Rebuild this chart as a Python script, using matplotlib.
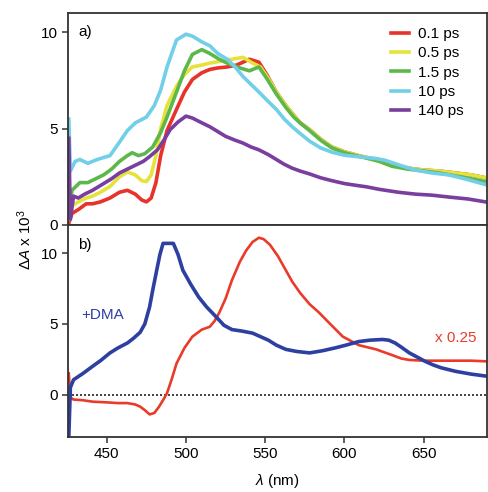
import matplotlib
matplotlib.use("Agg")
import matplotlib.pyplot as plt

plt.rcParams['font.family'] = ['Liberation Sans', 'DejaVu Sans']
plt.rcParams['mathtext.fontset'] = 'custom'
plt.rcParams['mathtext.rm'] = 'Liberation Sans'
plt.rcParams['mathtext.it'] = 'Liberation Sans:italic'

# ---- Panel a data (wavelength nm, dA x 10^3) ----
wl_01 = [426, 428, 432, 437, 441, 446, 452, 458, 463, 468, 472, 475, 478, 481, 484, 488, 494, 499, 504, 510, 515, 520, 526, 532, 540, 546, 551, 557, 563, 568, 572, 578, 585, 592, 600, 608, 614, 622, 630, 640, 650, 660, 670, 680, 689]
a_01 = [0.1, 0.6, 0.8, 1.1, 1.1, 1.2, 1.4, 1.7, 1.8, 1.6, 1.3, 1.2, 1.4, 2.2, 3.6, 4.9, 6.0, 6.9, 7.55, 7.9, 8.07, 8.15, 8.2, 8.3, 8.6, 8.45, 7.8, 6.9, 6.2, 5.7, 5.3, 4.95, 4.45, 4.05, 3.8, 3.62, 3.5, 3.35, 3.1, 2.95, 2.85, 2.8, 2.7, 2.6, 2.45]

wl_05 = [426, 428, 432, 437, 441, 446, 452, 458, 463, 468, 472, 475, 478, 481, 484, 488, 494, 499, 504, 510, 515, 522, 529, 536, 542, 547, 552, 557, 563, 568, 572, 578, 585, 592, 600, 608, 614, 622, 630, 640, 650, 660, 670, 680, 689]
a_05 = [0.3, 1.0, 1.2, 1.4, 1.5, 1.7, 2.0, 2.5, 2.75, 2.6, 2.3, 2.25, 2.6, 3.6, 5.0, 6.2, 7.2, 7.8, 8.2, 8.3, 8.4, 8.5, 8.6, 8.7, 8.4, 8.2, 7.6, 6.9, 6.2, 5.7, 5.3, 4.95, 4.45, 4.05, 3.8, 3.62, 3.5, 3.35, 3.1, 2.95, 2.85, 2.8, 2.7, 2.6, 2.45]

wl_15 = [426, 428, 433, 438, 443, 448, 453, 458, 463, 466, 470, 474, 479, 484, 488, 494, 499, 504, 510, 515, 521, 526, 532, 540, 546, 551, 557, 563, 568, 572, 578, 585, 592, 600, 608, 614, 622, 630, 640, 650, 660, 670, 680, 689]
a_15 = [0.5, 1.8, 2.2, 2.2, 2.4, 2.6, 2.9, 3.3, 3.6, 3.75, 3.6, 3.7, 4.05, 4.8, 5.6, 6.9, 8.0, 8.85, 9.1, 8.9, 8.6, 8.4, 8.2, 8.0, 8.2, 7.6, 6.8, 6.1, 5.6, 5.3, 4.9, 4.4, 4.0, 3.75, 3.58, 3.47, 3.3, 3.05, 2.9, 2.8, 2.7, 2.55, 2.4, 2.25]

wl_10 = [426, 427, 430, 433, 438, 444, 452, 458, 463, 468, 475, 480, 484, 488, 494, 500, 504, 510, 515, 520, 526, 531, 536, 541, 546, 552, 557, 562, 567, 572, 578, 585, 592, 600, 608, 614, 620, 626, 635, 645, 655, 666, 678, 689]
a_10 = [5.5, 2.8, 3.3, 3.4, 3.2, 3.4, 3.6, 4.3, 4.9, 5.3, 5.6, 6.2, 7.0, 8.2, 9.6, 9.9, 9.8, 9.5, 9.3, 8.9, 8.6, 8.2, 7.7, 7.3, 6.9, 6.4, 6.0, 5.5, 5.1, 4.75, 4.35, 4.0, 3.78, 3.62, 3.55, 3.5, 3.45, 3.35, 3.1, 2.85, 2.7, 2.6, 2.35, 2.1]

wl_140 = [426, 427, 429, 432, 436, 441, 447, 453, 458, 463, 468, 473, 477, 482, 486, 490, 495, 500, 504, 510, 515, 520, 525, 531, 536, 541, 546, 552, 557, 562, 567, 572, 578, 585, 592, 600, 608, 614, 622, 634, 645, 655, 666, 678, 689]
a_140 = [4.5, 0.3, 1.5, 1.4, 1.6, 1.8, 2.1, 2.4, 2.7, 2.9, 3.1, 3.3, 3.55, 3.9, 4.4, 4.95, 5.35, 5.65, 5.55, 5.3, 5.1, 4.85, 4.6, 4.4, 4.25, 4.05, 3.9, 3.65, 3.4, 3.15, 2.95, 2.8, 2.65, 2.45, 2.3, 2.15, 2.05, 1.98, 1.85, 1.7, 1.6, 1.55, 1.45, 1.35, 1.2]

# ---- Panel b data ----
wl_red_b = [426, 427, 429, 435, 441, 450, 457, 463, 468, 471, 474, 477, 480, 483, 486, 488, 491, 494, 499, 504, 510, 515, 518, 521, 525, 529, 534, 538, 542, 546, 549, 553, 558, 563, 567, 572, 578, 584, 591, 599, 609, 620, 630, 636, 641, 650, 660, 670, 680, 690]
b_red = [1.5, -0.2, -0.35, -0.4, -0.5, -0.55, -0.6, -0.6, -0.7, -0.85, -1.1, -1.4, -1.3, -0.85, -0.3, 0.1, 1.1, 2.2, 3.3, 4.1, 4.6, 4.8, 5.2, 5.8, 6.8, 8.1, 9.4, 10.2, 10.8, 11.1, 11.0, 10.6, 9.8, 8.8, 8.0, 7.2, 6.4, 5.8, 5.0, 4.1, 3.5, 3.2, 2.8, 2.55, 2.45, 2.4, 2.4, 2.4, 2.4, 2.35]

wl_blue_b = [426, 427, 429, 435, 441, 446, 452, 457, 463, 467, 471, 474, 477, 479, 481.5, 483.5, 485.5, 489, 492, 495, 498, 503, 508, 513, 519, 524, 529, 535, 542, 547, 552, 557, 563, 570, 578, 586, 594, 601, 609, 616, 624, 628, 632, 636, 641, 646, 651, 656, 661, 670, 680, 690]
b_blue = [-3.0, 0.5, 1.05, 1.5, 2.0, 2.4, 2.95, 3.3, 3.65, 4.0, 4.4, 5.0, 6.2, 7.4, 8.8, 9.9, 10.7, 10.7, 10.7, 9.9, 8.8, 7.8, 6.9, 6.2, 5.5, 4.9, 4.6, 4.5, 4.35, 4.1, 3.85, 3.5, 3.2, 3.05, 2.95, 3.1, 3.3, 3.5, 3.75, 3.85, 3.9, 3.85, 3.65, 3.35, 2.95, 2.65, 2.35, 2.1, 1.9, 1.65, 1.45, 1.3]

legend_labels = ['0.1 ps', '0.5 ps', '1.5 ps', '10 ps', '140 ps']
colors_a = ['#e8322a', '#e6e23c', '#5cb84a', '#72cfe8', '#7a3e9e']
red_b = '#ea3a2a'
blue_b = '#2e3fa2'

fig = plt.figure(figsize=(4.88, 4.92), dpi=100)
L, R = 68 / 488, 487 / 488
ax_a = fig.add_axes([L, 1 - 225 / 492, R - L, 212 / 492])
ax_b = fig.add_axes([L, 1 - 437 / 492, R - L, 212 / 492])

series_a = [(wl_01, a_01), (wl_05, a_05), (wl_15, a_15), (wl_10, a_10), (wl_140, a_140)]
for (x, y), c, lab in zip(series_a, colors_a, legend_labels):
    ax_a.plot(x, y, color=c, lw=2.6, label=lab, solid_joinstyle='round')

ax_b.axhline(0, color='#222222', lw=1.2, ls=(0, (1.2, 1.2)))
ax_b.plot(wl_red_b, b_red, color=red_b, lw=1.9)
ax_b.plot(wl_blue_b, b_blue, color=blue_b, lw=2.6)

for ax in (ax_a, ax_b):
    ax.set_xlim(425.5, 690)
    for s in ax.spines.values():
        s.set_color('#333333')
        s.set_linewidth(1.3)
    ax.tick_params(direction='out', length=4, width=1.1, color='#333333',
                   labelsize=11, right=False, top=False, pad=3)
    ax.set_yticks([0, 5, 10])
    ax.set_xticks([450, 500, 550, 600, 650])

ax_a.set_ylim(0, 11)
ax_a.tick_params(axis='x', bottom=False, labelbottom=False)
ax_b.set_ylim(-3, 12)

ax_a.text(432, 10, 'a)', fontsize=11, va='center', ha='left')
ax_b.text(432, 10.6, 'b)', fontsize=11, va='center', ha='left')
ax_b.text(434, 5.6, '+DMA', fontsize=11, color=blue_b, va='center', ha='left')
ax_b.text(657, 4.0, 'x 0.25', fontsize=11, color=red_b, va='center', ha='left')

ax_a.legend(loc='upper right', frameon=False, fontsize=11, handlelength=1.2,
            handletextpad=0.6, labelspacing=0.35, borderaxespad=0.3,
            bbox_to_anchor=(0.97, 0.985))

fig.text(25 / 488, 1 - 240 / 492, r'$\mathit{\Delta A}$ x 10$^3$', rotation=90,
         fontsize=11, ha='center', va='center')
ax_b.set_xlabel(r'$\mathit{\lambda}$ (nm)', fontsize=11, labelpad=8)

fig.savefig('out.png', dpi=100)
